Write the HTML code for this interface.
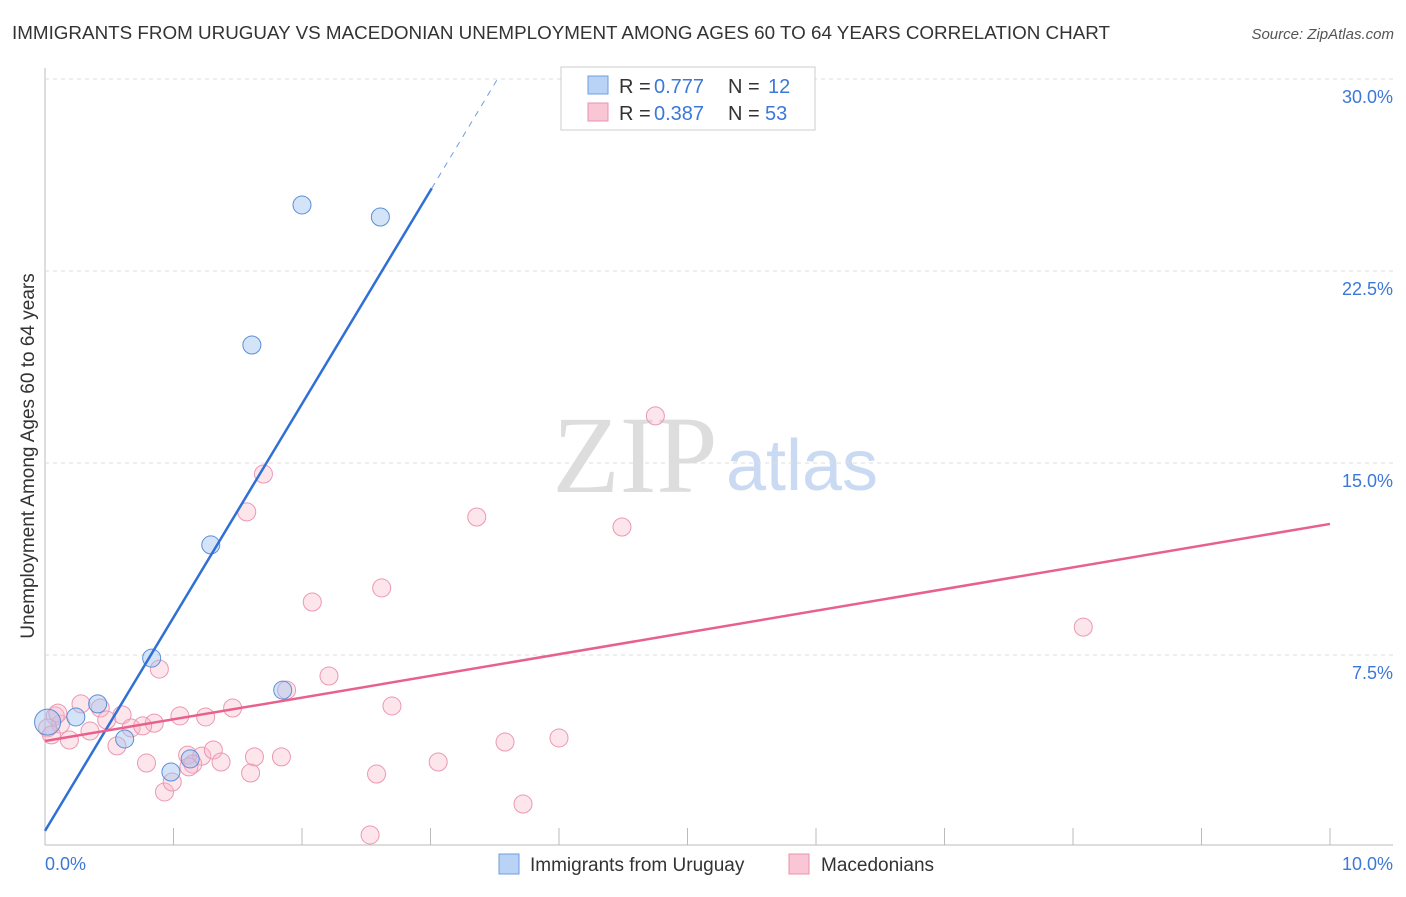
<!DOCTYPE html>
<html><head><meta charset="utf-8"><style>
body{margin:0;background:#fff;font-family:"Liberation Sans",sans-serif}
svg text{font-family:"Liberation Sans",sans-serif}
</style></head><body>
<svg id="c" width="1406" height="892">
<text x="12" y="39" font-size="18" fill="#333" textLength="1098" lengthAdjust="spacingAndGlyphs">IMMIGRANTS FROM URUGUAY VS MACEDONIAN UNEMPLOYMENT AMONG AGES 60 TO 64 YEARS CORRELATION CHART</text>
<text x="1394" y="39" font-size="15" fill="#555" font-style="italic" text-anchor="end">Source: ZipAtlas.com</text>
<text x="635" y="492" font-size="110" fill="#ddd" style="font-family:'Liberation Serif',serif" text-anchor="middle">ZIP</text>
<text x="802" y="490" font-size="72" fill="#c9daf2" text-anchor="middle">atlas</text>
<text transform="translate(34,456) rotate(-90)" font-size="19" fill="#333" text-anchor="middle">Unemployment Among Ages 60 to 64 years</text>
<g id="grid"></g><g id="marks"></g>
<g>
<rect x="561" y="67" width="254" height="63" fill="#fff" stroke="#ccc"/>
<rect x="588" y="76" width="20" height="18" fill="#b8d3f5" stroke="#6f9ee0"/>
<rect x="588" y="103" width="20" height="18" fill="#f9c6d6" stroke="#e892ae"/>
<text x="619" y="93" font-size="20" fill="#333">R =</text><text x="654" y="93" font-size="20" fill="#3b78d8">0.777</text>
<text x="728" y="93" font-size="20" fill="#333">N =</text><text x="768" y="93" font-size="20" fill="#3b78d8">12</text>
<text x="619" y="120" font-size="20" fill="#333">R =</text><text x="654" y="120" font-size="20" fill="#3b78d8">0.387</text>
<text x="728" y="120" font-size="20" fill="#333">N =</text><text x="765" y="120" font-size="20" fill="#3b78d8">53</text>
</g>
<g>
<rect x="499" y="854" width="20" height="20" fill="#b8d3f5" stroke="#6f9ee0"/>
<text x="530" y="871" font-size="19" fill="#333">Immigrants from Uruguay</text>
<rect x="789" y="854" width="20" height="20" fill="#f9c6d6" stroke="#e892ae"/>
<text x="821" y="871" font-size="19" fill="#333">Macedonians</text>
</g>
</svg>
<script>
const yTicks=[7.5,15,22.5,30];
const yTickLabels=["7.5%","15.0%","22.5%","30.0%"];
const xTickLabels=["0.0%","10.0%"];
const blueX=[0.02,0.41,0.24,0.62,0.83,0.98,1.13,1.29,1.61,1.85,2.00,2.61];
const blueY=[4.88,5.59,5.08,4.22,7.38,2.93,3.44,11.80,19.61,6.13,25.08,24.61];
const pinkX=[4.75,1.70,1.57,3.36,4.49,2.62,2.08,8.08,0.89,2.21,1.88,2.70,1.46,1.05,1.25,0.85,0.60,0.28,0.43,0.12,0.08,0.19,0.56,0.67,0.76,0.35,0.10,0.02,1.11,1.22,1.31,1.15,1.12,1.37,1.63,1.84,0.79,0.93,0.99,1.60,2.58,3.06,3.58,4.00,3.72,2.53,0.48,0.05];
const pinkY=[16.84,14.57,13.09,12.89,12.50,10.12,9.57,8.59,6.95,6.68,6.13,5.51,5.43,5.12,5.08,4.84,5.16,5.59,5.43,4.80,5.12,4.18,3.95,4.65,4.73,4.53,5.23,4.65,3.59,3.55,3.79,3.24,3.13,3.32,3.52,3.52,3.28,2.15,2.54,2.89,2.85,3.32,4.10,4.26,1.68,0.47,4.96,4.38];
const blueTrend=[0.63,8.34];
const pinkTrend=[4.14,0.848];
const X=v=>45+v*128.5, Y=v=>847-v*25.6;
const NS="http://www.w3.org/2000/svg";
function mk(p,t,a){const e=document.createElementNS(NS,t);for(const k in a)e.setAttribute(k,a[k]);p.appendChild(e);return e;}
const g=document.getElementById('grid'), m=document.getElementById('marks');
let ax=mk(g,'line',{x1:45,y1:68,x2:45,y2:845,stroke:'#bbb'});


let bx=mk(g,'line',{x1:45,y1:845,x2:1393,y2:845,stroke:'#bbb'});


yTicks.forEach((t,i)=>{
 let l=mk(g,'line',{x1:45,y1:Y(t),x2:1393,y2:Y(t),stroke:'#ddd','stroke-dasharray':'4,4'});
 
 
 let tx=mk(g,'text',{x:1393,y:Y(t)+24,'font-size':18,fill:'#3b78d8','text-anchor':'end'});tx.textContent=yTickLabels[i];
 
 
});
for(let i=1;i<=10;i++){let l=mk(g,'line',{x1:X(i),y1:828,x2:X(i),y2:845,stroke:'#bbb'});
 
 }
[[0,'start',45],[10,'end',1393]].forEach((d,i)=>{let t=mk(g,'text',{x:d[2],y:870,'font-size':18,fill:'#3b78d8','text-anchor':d[1]});t.textContent=xTickLabels[i];
 
 });
pinkX.forEach((x,i)=>{let c=mk(m,'circle',{cx:X(x),cy:Y(pinkY[i]),r:9,fill:'rgba(248,180,200,0.35)',stroke:'#eb98b3','stroke-width':1});
 
 });
blueX.forEach((x,i)=>{let c=mk(m,'circle',{cx:X(x),cy:Y(blueY[i]),r:i==0?13:9,fill:'rgba(160,196,240,0.45)',stroke:'#5b8fd6','stroke-width':1});
 
 });
const bxEnd=3.01, bxDash=(30-blueTrend[0])/blueTrend[1];
let bl=mk(m,'line',{x1:X(0),y1:Y(blueTrend[0]),x2:X(bxEnd),y2:Y(blueTrend[0]+blueTrend[1]*bxEnd),stroke:'#2f6fd6','stroke-width':2.5});


let bd=mk(m,'line',{x1:X(bxEnd),y1:Y(blueTrend[0]+blueTrend[1]*bxEnd),x2:X(bxDash),y2:Y(30),stroke:'#6f9ee0','stroke-width':1,'stroke-dasharray':'6,6'});


let pl=mk(m,'line',{x1:X(0),y1:Y(pinkTrend[0]),x2:X(10),y2:Y(pinkTrend[0]+pinkTrend[1]*10),stroke:'#e8608c','stroke-width':2.5});


</script>
</body></html>
